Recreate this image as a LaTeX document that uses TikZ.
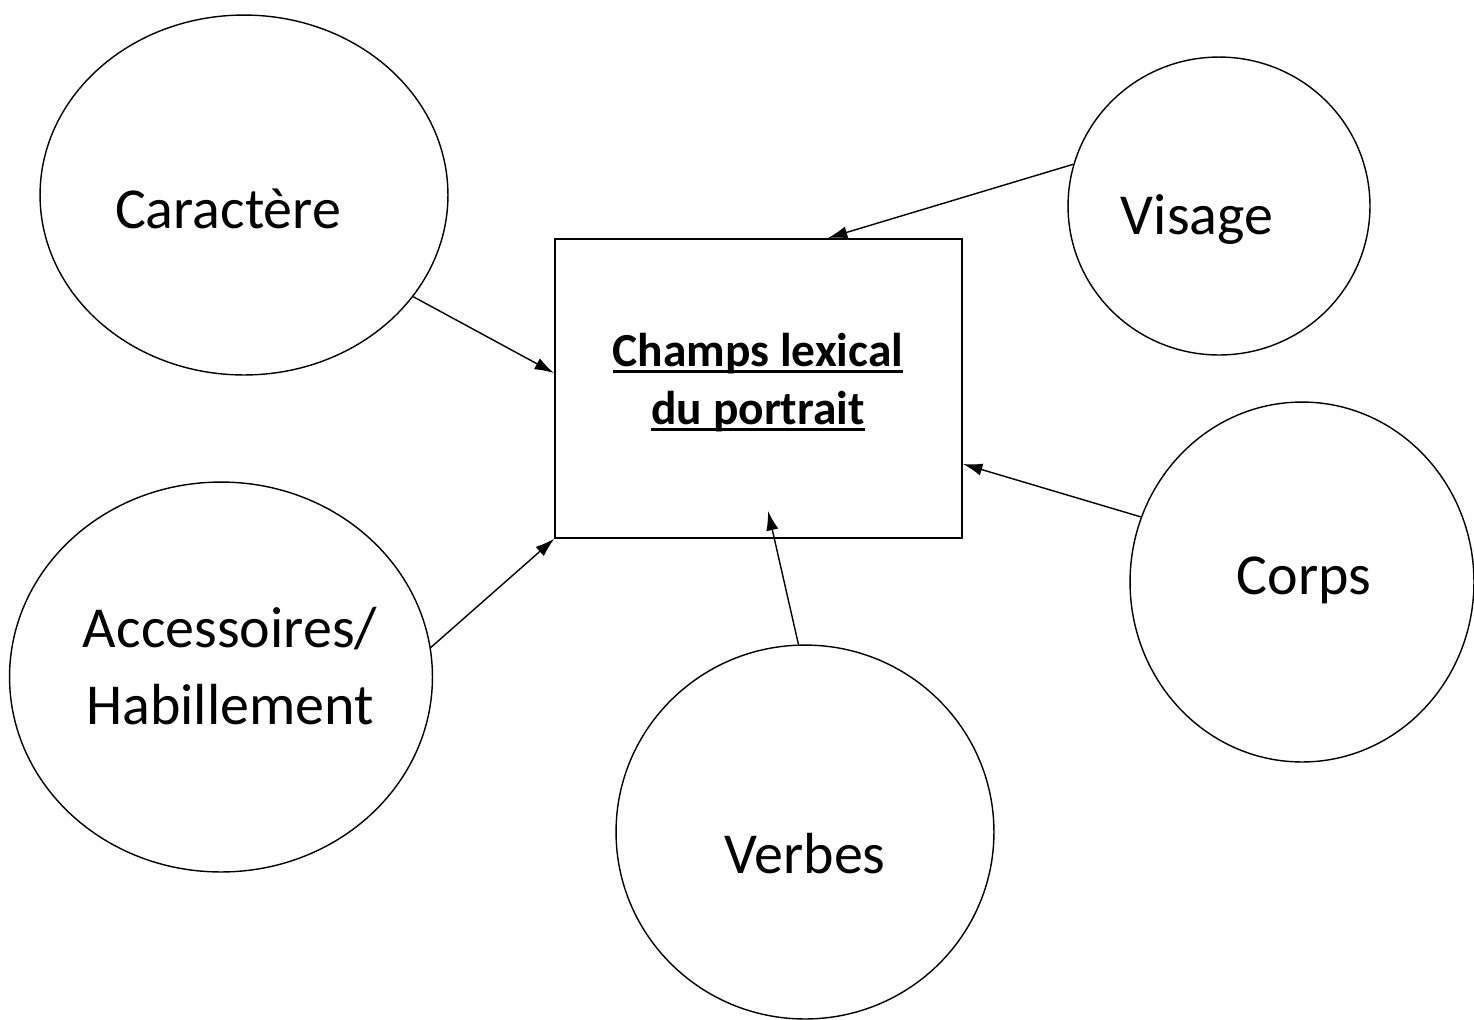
\documentclass[tikz,border=0pt]{standalone}
\usepackage{fontspec}
\setmainfont{Carlito}
\usetikzlibrary{shapes.geometric,arrows.meta}
\newcommand\myul[1]{\setbox0\hbox{#1}\rlap{\raisebox{-3.2pt}{\rule{\wd0}{1.3pt}}}\box0}
\begin{document}
\begin{tikzpicture}[x=0.02cm,y=-0.02cm,
  bubble/.style={draw,ellipse,line width=0.8pt,inner sep=0pt},
  lbl/.style={font=\fontsize{33}{40}\selectfont,align=center,inner sep=0pt},
  conn/.style={line width=0.8pt,-{Latex[length=11pt,width=7pt]}}]
\useasboundingbox (0,0) rectangle (1474,1019);
\node[draw,line width=0.8pt,minimum width=8.14cm,minimum height=5.98cm,inner sep=0pt] (box) at (758.5,388.5) {};
\node[font=\fontsize{27}{33}\selectfont\bfseries,align=center,inner sep=0pt] (boxt) at (758,383)
  {\myul{Champs lexical}\\\myul{du portrait}};
\node[bubble,minimum width=8.16cm,minimum height=7.2cm] (car) at (244,195) {};
\node[lbl] (cart) at (228,209) {Caractère};
\node[bubble,minimum width=6.04cm,minimum height=5.96cm] (vis) at (1219,206) {};
\node[lbl] (vist) at (1197,220) {Visage};
\node[bubble,minimum width=6.88cm,minimum height=7.2cm] (cor) at (1302,582) {};
\node[lbl] (cort) at (1304,580) {Corps};
\node[bubble,minimum width=8.46cm,minimum height=7.8cm] (acc) at (221,677) {};
\node[lbl] (acct) at (230,666) {Accessoires/\\[4pt]Habillement};
\node[bubble,minimum width=7.56cm,minimum height=7.48cm] (ver) at (805,832) {};
\node[lbl] (vert) at (805,854) {Verbes};
\coordinate (tcar) at (554,373);
\coordinate (tver) at (768,511);
\coordinate (tcor) at (963,464);
\coordinate (tvis) at (828,238);
\draw[conn] (car.-31) -- (tcar);
\draw[conn] (acc.8) -- (box.south west);
\draw[conn] (ver.92.7) -- (tver);
\draw[conn] (cor.158.6) -- (tcor);
\draw[conn] (vis.164) -- (tvis);
\end{tikzpicture}
\end{document}
